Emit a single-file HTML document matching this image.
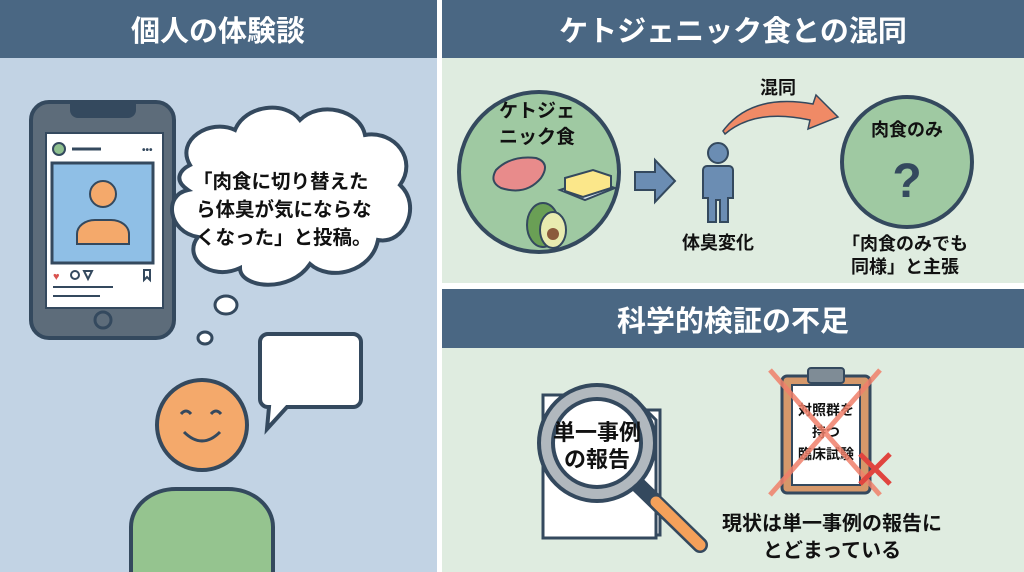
<!DOCTYPE html>
<html><head><meta charset="utf-8"><style>
html,body{margin:0;padding:0;background:#fff}
svg{display:block}
text{font-family:"Liberation Sans","Noto Sans CJK JP",sans-serif;font-weight:bold}
</style></head><body>
<svg width="1024" height="572" viewBox="0 0 1024 572" xmlns="http://www.w3.org/2000/svg">
<rect width="1024" height="572" fill="#fff"/>
<rect x="0" y="0" width="437" height="572" fill="#c2d3e4"/>
<rect x="0" y="0" width="437" height="58" fill="#4a6783"/>
<text x="218" y="41" font-size="29" fill="#fff" text-anchor="middle">個人の体験談</text>
<rect x="442" y="0" width="582" height="283" fill="#dfece0"/>
<rect x="442" y="0" width="582" height="58" fill="#4a6783"/>
<text x="733" y="41" font-size="29" fill="#fff" text-anchor="middle">ケトジェニック食との混同</text>
<rect x="442" y="289" width="582" height="283" fill="#dfece0"/>
<rect x="442" y="289" width="582" height="59" fill="#4a6783"/>
<text x="733" y="331" font-size="29" fill="#fff" text-anchor="middle">科学的検証の不足</text>

<!-- phone -->
<rect x="31" y="102" width="143" height="236" rx="18" fill="#5d6c7a" stroke="#34495e" stroke-width="4"/>
<path d="M70 104 h66 v6 a8 8 0 0 1 -8 8 h-50 a8 8 0 0 1 -8 -8z" fill="#34495e"/>
<rect x="46" y="133" width="117" height="175" fill="#fff" stroke="#34495e" stroke-width="2"/>
<circle cx="59" cy="149" r="6" fill="#8fc08f" stroke="#34495e" stroke-width="2"/>
<line x1="72" y1="149" x2="101" y2="149" stroke="#34495e" stroke-width="3"/>
<text x="142" y="153" font-size="10" fill="#34495e">•••</text>
<rect x="52" y="163" width="101" height="100" fill="#8fbfe6" stroke="#34495e" stroke-width="3"/>
<circle cx="103" cy="194" r="13" fill="#f4a96b" stroke="#34495e" stroke-width="2"/>
<path d="M77 244 v-10 a18 14 0 0 1 18 -14 h16 a18 14 0 0 1 18 14 v10z" fill="#f4a96b" stroke="#34495e" stroke-width="2"/>
<text x="53" y="280" font-size="11" fill="#d9534f">♥</text>
<circle cx="75" cy="275" r="4" fill="none" stroke="#34495e" stroke-width="2"/>
<path d="M84 271 l8 0 l-4 8z" fill="none" stroke="#34495e" stroke-width="2"/>
<path d="M144 270 v10 l3 -3 l3 3 v-10z" fill="none" stroke="#34495e" stroke-width="2"/>
<line x1="53" y1="287" x2="113" y2="287" stroke="#34495e" stroke-width="2"/>
<line x1="53" y1="296" x2="100" y2="296" stroke="#34495e" stroke-width="2"/>
<circle cx="103" cy="320" r="8" fill="none" stroke="#34495e" stroke-width="3"/>

<!-- cloud -->
<path d="M190 165 C175 140 210 118 235 130 C245 105 285 100 300 120 C320 100 360 110 365 135 C395 130 418 160 400 185 C422 205 405 245 378 240 C372 272 330 282 310 264 C290 294 240 288 240 268 C210 282 182 257 198 237 C168 232 163 195 188 190 C173 180 180 170 190 165Z" fill="#fff" stroke="#34495e" stroke-width="4"/>
<text font-size="19.5" fill="#111"><tspan x="193" y="188">「肉食に切り替えた</tspan><tspan x="196" y="216">ら体臭が気にならな</tspan><tspan x="196" y="244">くなった」と投稿。</tspan></text>
<ellipse cx="226" cy="305" rx="11" ry="9" fill="#fff" stroke="#34495e" stroke-width="3"/>
<ellipse cx="205" cy="338" rx="7" ry="6" fill="#fff" stroke="#34495e" stroke-width="3"/>
<path d="M268 334 h85 a8 8 0 0 1 8 8 v57 a8 8 0 0 1 -8 8 h-66 l-20 22 l2 -22 h-1 a8 8 0 0 1 -8 -8 v-57 a8 8 0 0 1 8 -8z" fill="#fff" stroke="#34495e" stroke-width="4"/>
<!-- person -->
<path d="M131 572 v-45 a45 38 0 0 1 45 -38 h52 a45 38 0 0 1 45 38 v45" fill="#95c48f" stroke="#34495e" stroke-width="4"/>
<circle cx="202" cy="425" r="45" fill="#f4a96b" stroke="#34495e" stroke-width="4"/>
<path d="M181 414 q5 -6 10 0 M211 414 q5 -6 10 0" fill="none" stroke="#34495e" stroke-width="3"/>
<path d="M184 432 q18 18 36 0" fill="none" stroke="#34495e" stroke-width="3"/>

<!-- keto circle -->
<circle cx="539" cy="172" r="80" fill="#9fc9a2" stroke="#34495e" stroke-width="4"/>
<text font-size="19" fill="#111" text-anchor="middle"><tspan x="537" y="117">ケトジェ</tspan><tspan x="537" y="143">ニック食</tspan></text>
<path d="M496 170 q15 -15 40 -12 q15 5 5 20 q-15 18 -40 10 q-12 -6 -5 -18z" fill="#e88b8b" stroke="#34495e" stroke-width="2"/>
<path d="M560 190 l30 -10 l25 8 l-30 12z" fill="#d5e4ef" stroke="#34495e" stroke-width="2"/>
<path d="M565 178 l28 -8 l18 6 v12 l-28 9 l-18 -6z" fill="#fbe78a" stroke="#34495e" stroke-width="2"/>
<ellipse cx="543" cy="225" rx="16" ry="22" fill="#6a9f55" stroke="#34495e" stroke-width="2"/>
<ellipse cx="553" cy="230" rx="13" ry="18" fill="#e8ebb0" stroke="#34495e" stroke-width="2"/>
<circle cx="553" cy="234" r="6" fill="#8b5a3c"/>
<path d="M635 172 h20 v-12 l20 21 l-20 21 v-12 h-20z" fill="#6b8db3" stroke="#34495e" stroke-width="2"/>
<circle cx="718" cy="153" r="10" fill="#6b8db3" stroke="#34495e" stroke-width="2"/>
<path d="M707 166 h22 a4 4 0 0 1 4 4 v28 h-5 v24 h-8 v-22 h-4 v22 h-8 v-24 h-5 v-28 a4 4 0 0 1 4 -4z" fill="#6b8db3" stroke="#34495e" stroke-width="2"/>
<text x="718" y="249" font-size="18" fill="#111" text-anchor="middle">体臭変化</text>
<path d="M723 131 q28 -38 90 -27 l3 -9 l22 22 l-30 12 l2 -9 q-55 -12 -85 14z" fill="#f08a66" stroke="#34495e" stroke-width="1.5"/>
<text x="778" y="94" font-size="18" fill="#111" text-anchor="middle">混同</text>
<circle cx="907" cy="162" r="65" fill="#9fc9a2" stroke="#34495e" stroke-width="4"/>
<text x="907" y="136" font-size="18" fill="#111" text-anchor="middle">肉食のみ</text>
<text x="907" y="197" font-size="48" fill="#34495e" text-anchor="middle">?</text>
<text font-size="18" fill="#111" text-anchor="middle"><tspan x="905" y="250">「肉食のみでも</tspan><tspan x="905" y="273">同様」と主張</tspan></text>

<!-- docs + magnifier -->
<rect x="555" y="410" width="105" height="125" fill="#fff" stroke="#34495e" stroke-width="3"/>
<path d="M543 395 h88 l25 25 v118 h-113z" fill="#fff" stroke="#34495e" stroke-width="3"/>
<line x1="631" y1="478" x2="700" y2="545" stroke="#34495e" stroke-width="16" stroke-linecap="round"/>
<line x1="656" y1="502" x2="700" y2="545" stroke="#f4a05a" stroke-width="11" stroke-linecap="round"/>
<circle cx="597" cy="443" r="58" fill="#b1b8be" stroke="#34495e" stroke-width="4"/>
<circle cx="597" cy="443" r="44" fill="#fff" stroke="#34495e" stroke-width="4"/>
<text font-size="22" fill="#111" text-anchor="middle"><tspan x="597" y="440">単一事例</tspan><tspan x="597" y="467">の報告</tspan></text>
<rect x="782" y="376" width="88" height="117" rx="5" fill="#d6986a" stroke="#34495e" stroke-width="3"/>
<rect x="792" y="385" width="68" height="100" fill="#fff" stroke="#34495e" stroke-width="2"/>
<rect x="808" y="368" width="36" height="15" rx="3" fill="#7f8c96" stroke="#34495e" stroke-width="2"/>
<text font-size="14" fill="#111" text-anchor="middle"><tspan x="826" y="415">対照群を</tspan><tspan x="826" y="437">持つ</tspan><tspan x="826" y="459">臨床試験</tspan></text>
<path d="M770 370 L880 495 M880 370 L770 495" stroke="#f0806a" stroke-width="5" opacity="0.85"/>
<path d="M860 454 l30 30 M890 454 l-30 30" stroke="#e0453f" stroke-width="5"/>
<text font-size="20" fill="#111" text-anchor="middle"><tspan x="832" y="530">現状は単一事例の報告に</tspan><tspan x="832" y="557">とどまっている</tspan></text>
</svg>
</body></html>
